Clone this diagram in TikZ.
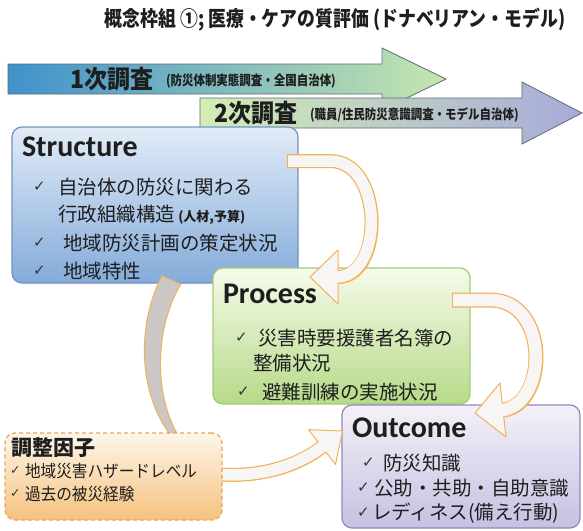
\documentclass[tikz,border=0pt]{standalone}
\usepackage{fontspec}
\setmainfont{Noto Sans CJK JP}
\newfontfamily\jp{Noto Sans CJK JP}
\newfontfamily\jpc{Noto Sans CJK JP}[FakeStretch=0.85]
\newfontfamily\jpm{Noto Sans CJK JP}[FakeStretch=0.92]
\newfontfamily\lat{Carlito}
\newfontfamily\chkf{DejaVu Sans}
\definecolor{txt}{HTML}{1E1E1E}
\definecolor{aline}{HTML}{5E6B78}
\definecolor{aoneL}{HTML}{3F92CB}
\definecolor{aoneM}{HTML}{D3E9EC}
\definecolor{aoneR}{HTML}{C6E6AE}
\definecolor{atwoL}{HTML}{D3EDB4}
\definecolor{atwoM}{HTML}{E4EBEF}
\definecolor{atwoR}{HTML}{A7ABD9}
\definecolor{sTop}{HTML}{E2ECF7}
\definecolor{sBot}{HTML}{84ABDA}
\definecolor{sLine}{HTML}{7393C0}
\definecolor{pTop}{HTML}{F6FBEA}
\definecolor{pBot}{HTML}{B6DA88}
\definecolor{pLine}{HTML}{A2CB78}
\definecolor{oTop}{HTML}{F3F1F8}
\definecolor{oBot}{HTML}{C7C0E2}
\definecolor{oLine}{HTML}{9188BC}
\definecolor{fTop}{HTML}{FDF6EA}
\definecolor{fBot}{HTML}{F6C27E}
\definecolor{fLine}{HTML}{EBA55A}
\definecolor{orng}{HTML}{F0B25A}
\definecolor{bandfill}{HTML}{F8F6F4}
\definecolor{cresc}{HTML}{CBC7C4}
\tikzset{
  every node/.style={inner sep=0pt, outer sep=0pt},
  box/.style={rounded corners=10pt, line width=1.2pt, anchor=north west},
  sbox/.style={box, draw=sLine, top color=sTop, bottom color=sBot},
  pbox/.style={box, draw=pLine, top color=pTop, bottom color=pBot},
  obox/.style={box, draw=oLine, top color=oTop, bottom color=oBot},
  fbox/.style={box, draw=fLine, dashed, dash pattern=on 4pt off 3pt, top color=fTop, bottom color=fBot},
  toparrow/.style={draw=aline, line width=0.8pt},
  head/.style={anchor=west, font=\lat\bfseries\fontsize{30}{32}\selectfont, text=txt},
  item/.style={anchor=west, font=\jp\fontsize{19.5}{22}\selectfont, text=txt},
  smallitem/.style={anchor=west, font=\jpm\fontsize{17}{19}\selectfont, text=txt},
  chk/.style={anchor=west, font=\chkf\fontsize{15}{16}\selectfont, text=txt!90},
  schk/.style={anchor=west, font=\chkf\fontsize{12.5}{13}\selectfont, text=txt!90},
  bandout/.style={draw=orng, line width=14pt},
  bandin/.style={draw=bandfill, line width=11.5pt},
  ahead/.style={fill=bandfill, draw=orng, line width=1pt, line join=round},
  bigl/.style={anchor=west, font=\jpm\bfseries\fontsize{25}{27}\selectfont, text=txt},
  smalll/.style={anchor=west, font=\jpc\bfseries\fontsize{13.5}{15}\selectfont, text=txt},
}
\begin{document}
\begin{tikzpicture}[x=1pt,y=-1pt]
\useasboundingbox (0,0) rectangle (583,530);
\fill[white] (0,0) rectangle (583,530);

% title
\node[font=\jpc\bfseries\fontsize{21}{23}\selectfont, text=txt] (title) at (335,20)
  {概念枠組 ①; 医療・ケアの質評価 (ドナベリアン・モデル)};

% survey arrows
\shade[toparrow, left color=aoneL, middle color=aoneM, right color=aoneR]
  (8,64) -- (382,64) -- (382,48) -- (446,79) -- (382,110) -- (382,94) -- (8,94) -- cycle;
\node[bigl] (s1) at (70,79) {1次調査};
\node[smalll] (s1s) at (166,81) {(防災体制実態調査・全国自治体)};
\shade[toparrow, left color=atwoL, middle color=atwoM, right color=atwoR]
  (200,98) -- (522,98) -- (522,82) -- (582,113) -- (522,144) -- (522,128) -- (200,128) -- cycle;
\node[bigl] (s2) at (214,113) {2次調査};
\node[smalll] (s2s) at (310,115) {(職員/住民防災意識調査・モデル自治体)};

% boxes
\node[sbox, minimum width=286pt, minimum height=156pt] (structure) at (12,127) {};
\node[pbox, minimum width=257pt, minimum height=136pt] (process) at (213,268) {};
\node[obox, minimum width=238pt, minimum height=123pt] (outcome) at (342,405) {};

% crescent from Structure down to the factor box
\coordinate (cA) at (162,276);
\coordinate (cB) at (172,437);
\coordinate (cC) at (179,437);
\coordinate (cD) at (181,284);
\filldraw[fill=cresc, draw=orng, line width=1pt]
  (cA) .. controls (138,320) and (136,392) .. (cB) -- (cC)
  .. controls (152,392) and (156,325) .. (cD) -- cycle;

% factor -> outcome arrow
\coordinate (f1) at (215,474);
\coordinate (f2) at (322,447);
\draw[bandout] (f1) .. controls (255,478) and (295,468) .. (f2);
\filldraw[ahead] (308.5,429.6) -- (342.5,431) -- (335.5,464.4) -- cycle;
\draw[bandin] (f1) .. controls (255,478) and (295,468) .. (323.3,446);

\node[fbox, minimum width=217pt, minimum height=87pt] (factor) at (5,433) {};

% structure -> process arrow
\coordinate (p1) at (287,161);
\coordinate (p2) at (330,161);
\coordinate (p3) at (338,277);
\draw[bandout] (p1) -- (p2) .. controls (384,161) and (384,277) .. (p3);
\filldraw[ahead] (338,250) -- (310,277) -- (338,304) -- cycle;
\draw[bandin] (288,161) -- (p2) .. controls (384,161) and (384,277) .. (336.5,277);

% process -> outcome arrow
\coordinate (q1) at (452,300);
\coordinate (q2) at (490,300);
\coordinate (q3) at (503,410);
\draw[bandout, line width=15pt] (q1) -- (q2) .. controls (550,300) and (548,405) .. (q3);
\filldraw[ahead] (500,383) -- (475,413) -- (506,437) -- cycle;
\draw[bandin, line width=12.5pt] (453,300) -- (q2) .. controls (550,300) and (548,405) .. (501.5,410.2);

% Structure text
\node[head] (sh) at (22,147) {Structure};
\node[chk] (sc1) at (33,187) {✓};
\node[item] (si1) at (58,187) {自治体の防災に関わる};
\node[item] (si2) at (58,215) {行政組織構造\,{\bfseries\fontsize{13}{14}\selectfont (人材,予算)}};
\node[chk] (sc3) at (33,243) {✓};
\node[item] (si3) at (63,243) {地域防災計画の策定状況};
\node[chk] (sc4) at (33,271) {✓};
\node[item] (si4) at (63,271) {地域特性};

% Process text
\node[head] (ph) at (223,294) {Process};
\node[chk] (pc1) at (235,338) {✓};
\node[item] (pi1) at (258,338) {災害時要援護者名簿の};
\node[item] (pi2) at (253,363) {整備状況};
\node[chk] (pc3) at (237,392) {✓};
\node[item] (pi3) at (262,392) {避難訓練の実施状況};

% Outcome text
\node[head] (oh) at (352,428) {Outcome};
\node[chk] (oc1) at (362,463) {✓};
\node[item] (oi1) at (383,463) {防災知識};
\node[chk] (oc2) at (357,488) {✓};
\node[item] (oi2) at (374,488) {公助・共助・自助意識};
\node[chk] (oc3) at (357,513) {✓};
\node[item] (oi3) at (372,513) {レディネス(備え行動)};

% factor text
\node[anchor=west, font=\jp\bfseries\fontsize{21}{23}\selectfont, text=txt] (fh) at (11,448) {調整因子};
\node[schk] (fc1) at (10,471) {✓};
\node[smallitem] (fi1) at (25,471) {地域災害ハザードレベル};
\node[schk] (fc2) at (10,494) {✓};
\node[smallitem] (fi2) at (25,494) {過去の被災経験};
\end{tikzpicture}
\end{document}
